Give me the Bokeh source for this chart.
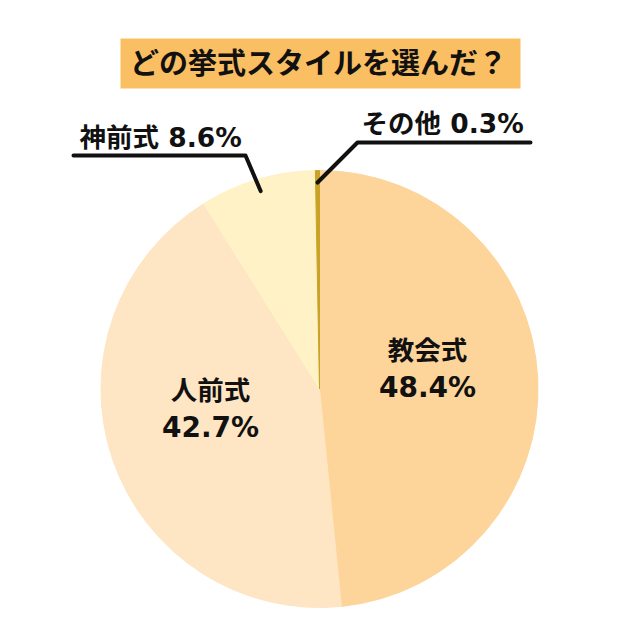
import math
from bokeh.plotting import figure
from bokeh.models import Range1d, ColumnDataSource
from bokeh.core.properties import value
from bokeh.embed import file_html
from bokeh.resources import INLINE

# ---- data ----
title_text = "どの挙式スタイルを選んだ？"
categories = ["教会式", "人前式", "神前式", "その他"]
shares = [48.4, 42.7, 8.6, 0.3]
pct_labels = ["48.4%", "42.7%", "8.6%", "0.3%"]
colors = ["#FDD59A", "#FEE5C3", "#FEF2C6", "#C9A227"]

# ---- layout (page pixel space converted to data: y = 640 - py) ----
W = H = 624
cx, cy, R = 319, 640 - 388.5, 218.5
FONT = value("'DejaVu Sans', 'Noto Sans CJK JP', sans-serif")

p = figure(width=W, height=H, output_backend="svg", toolbar_location=None,
           x_range=Range1d(0, 624), y_range=Range1d(16, 640), min_border=0)
p.axis.visible = False
p.grid.visible = False
p.outline_line_color = None
p.background_fill_color = "white"
p.border_fill_color = "white"

total = sum(shares)
starts, ends, mids = [], [], []
cum = 0.0
for s in shares:
    a0 = math.pi / 2 - 2 * math.pi * cum / total
    cum += s
    a1 = math.pi / 2 - 2 * math.pi * cum / total
    starts.append(a0)
    ends.append(a1)
    mids.append((a0 + a1) / 2)

src = ColumnDataSource(dict(x=[cx] * 4, y=[cy] * 4, start=starts, end=ends,
                            color=colors))
p.wedge(x="x", y="y", radius=R, start_angle="start", end_angle="end",
        direction="clock", fill_color="color", line_color="color",
        line_width=1, source=src)

# title box
p.quad(left=[120], right=[520], bottom=[552], top=[602], fill_color="#FBBF63",
       line_color=None)
p.text(x=[318], y=[577], text=[title_text], text_font=FONT,
       text_font_style="bold", text_font_size="29px", text_align="center",
       text_baseline="middle", text_color="#111111")

# inner labels (教会式, 人前式)
inner_pos = [(427, 290, 253), (210, 250, 213)]
for i, (lx, ly1, ly2) in enumerate(inner_pos):
    p.text(x=[lx], y=[ly1], text=[categories[i]], text_font=FONT,
           text_font_style="bold", text_font_size="26.5px", text_align="center",
           text_baseline="middle", text_color="#111111")
    p.text(x=[lx], y=[ly2], text=[pct_labels[i]], text_font=FONT,
           text_font_style="bold", text_font_size="28px", text_align="center",
           text_baseline="middle", text_color="#111111")

# callouts (神前式, その他): endpoint on slice mid-angle
callouts = [(2, (245, 485), (73, 485), (79, 503)),
            (3, (357, 498), (530, 498), (361, 517))]
for i, elbow, end, tpos in callouts:
    ex = cx + 0.945 * R * math.cos(mids[i])
    ey = cy + 0.945 * R * math.sin(mids[i])
    p.line(x=[ex, elbow[0], end[0]], y=[ey, elbow[1], end[1]],
           line_color="#111111", line_width=4, line_cap="round",
           line_join="round")
    p.text(x=[tpos[0]], y=[tpos[1]], text=[categories[i] + " " + pct_labels[i]],
           text_font=FONT, text_font_style="bold", text_font_size="26.5px",
           text_align="left", text_baseline="middle", text_color="#111111")

open("out.html", "w").write(file_html(p, INLINE))
